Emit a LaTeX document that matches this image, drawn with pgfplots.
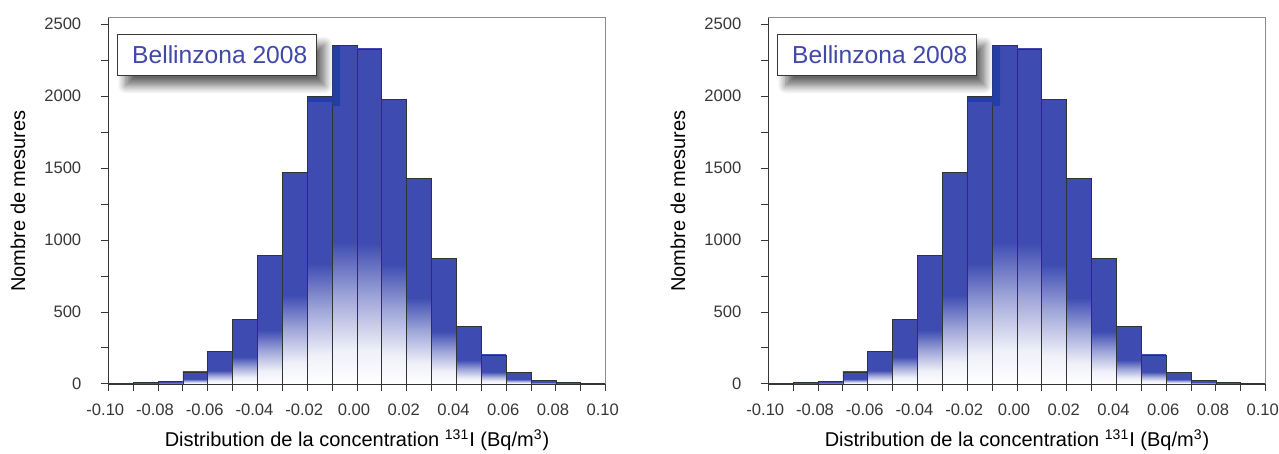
\documentclass[border=0pt]{standalone}
\usepackage{fontspec}
\setmainfont{Liberation Sans}
\usepackage{pgfplots}
\pgfplotsset{compat=1.18}
\usetikzlibrary{shadows.blur}
\definecolor{barblue}{RGB}{62,76,178}
\definecolor{darkblue}{RGB}{36,62,165}
\definecolor{titleblue}{RGB}{64,72,170}
\definecolor{txt}{RGB}{55,55,55}
\pgfdeclareverticalshading{barshade}{100bp}{color(0bp)=(white); color(25bp)=(white); color(30bp)=(barblue!8); color(38bp)=(barblue!50); color(46bp)=(barblue); color(100bp)=(barblue)}

\pgfplotsset{panel/.style={
  width=248.7pt, height=183pt, scale only axis,
  xmin=-0.1, xmax=0.1, ymin=0, ymax=2542,
  axis x line*=bottom, axis y line*=left,
  axis line style={-, line width=0.6pt, txt},
  xtick={-0.1,-0.08,-0.06,-0.04,-0.02,0,0.02,0.04,0.06,0.08,0.1},
  minor xtick={-0.09,-0.07,-0.05,-0.03,-0.01,0.01,0.03,0.05,0.07,0.09},
  ytick={0,500,1000,1500,2000,2500},
  minor ytick={250,750,1250,1750,2250},
  tick align=outside, major tick length=3.5pt, minor tick length=3.5pt,
  tick style={line width=0.5pt, txt},
  scaled x ticks=false, scaled y ticks=false,
  /pgf/number format/assume math mode=true,
  xticklabel style={/pgf/number format/fixed, /pgf/number format/fixed zerofill, /pgf/number format/precision=2, yshift=-3pt, xshift=-1.5pt},
  yticklabel style={/pgf/number format/fixed, /pgf/number format/1000 sep={}, xshift=-6.5pt},
  ticklabel style={font=\fontsize{8.3}{10}\selectfont, text=txt},
  label style={font=\fontsize{8.3}{10}\selectfont, text=txt},
  ylabel={Nombre de mesures},
  xlabel={Distribution de la concentration \textsuperscript{131}I (Bq/m\textsuperscript{3})},
  every axis y label/.style={at={(axis description cs:-0.1815,0.5)}, rotate=90, anchor=center},
  every axis x label/.style={at={(axis description cs:0.5,-0.153)}, anchor=center},
  clip=false,
}}

% one bar per plot, so that each bar gets its own shading
\newcommand{\histbar}[3]{\addplot[ybar interval, draw=black!80, line width=0.4pt, shade, shading=barshade] coordinates {(#1,#3) (#2,#3)};}

\newcommand{\panelcontent}{%
  \histbar{-0.09}{-0.08}{10}
  \histbar{-0.08}{-0.07}{20}
  \histbar{-0.07}{-0.06}{84}
  \histbar{-0.06}{-0.05}{224}
  \histbar{-0.05}{-0.04}{450}
  \histbar{-0.04}{-0.03}{893}
  \histbar{-0.03}{-0.02}{1471}
  \histbar{-0.02}{-0.01}{1995}
  \histbar{-0.01}{0.00}{2350}
  \histbar{0.00}{0.01}{2327}
  \histbar{0.01}{0.02}{1977}
  \histbar{0.02}{0.03}{1430}
  \histbar{0.03}{0.04}{870}
  \histbar{0.04}{0.05}{398}
  \histbar{0.05}{0.06}{202}
  \histbar{0.06}{0.07}{79}
  \histbar{0.07}{0.08}{23}
  \histbar{0.08}{0.09}{12}
  \histbar{0.09}{0.10}{5}
  \addplot[fill=darkblue, draw=none] coordinates {(-0.0198,1992) (-0.0099,1992) (-0.0099,2347) (-0.0068,2347) (-0.0068,1930) (-0.0099,1930) (-0.0099,1960) (-0.0198,1960)};
  \draw[black!45, line width=0.5pt] (rel axis cs:0,1) -- (rel axis cs:1,1) -- (rel axis cs:1,0);
  \node[draw=txt, line width=0.5pt, fill=white, anchor=north west, minimum width=99.5pt, minimum height=20.5pt, inner sep=0pt, text=titleblue, font=\fontsize{12.3}{14}\selectfont, blur shadow={shadow xshift=4pt, shadow yshift=-5pt, shadow blur radius=4pt, shadow blur steps=10, shadow opacity=60}] at (rel axis cs:0.018,0.956) {\hspace{2.5pt}Bellinzona 2008};
}

\begin{document}
\begin{tikzpicture}
\useasboundingbox (0,0) rectangle (639.5pt,227pt);
\begin{axis}[panel, at={(54.15pt,35pt)}, anchor=south west]
\panelcontent
\end{axis}
\begin{axis}[panel, at={(384.15pt,35pt)}, anchor=south west]
\panelcontent
\end{axis}
\end{tikzpicture}
\end{document}
